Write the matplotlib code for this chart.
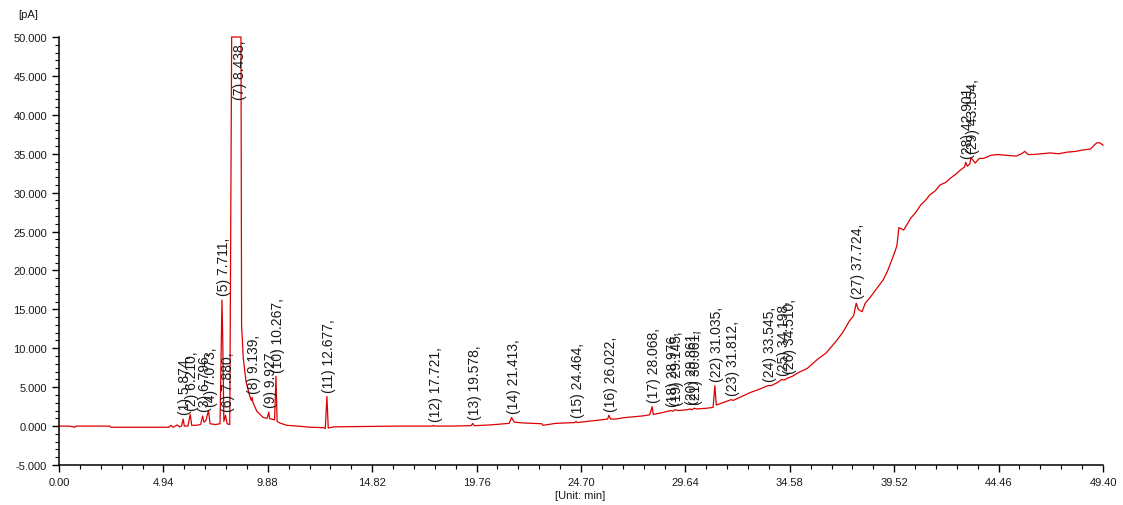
#!/usr/bin/env python3
'''GC-FID chromatogram with numbered peak labels'''
import numpy as np
import matplotlib.pyplot as plt
from matplotlib.ticker import FixedLocator, MultipleLocator, FormatStrFormatter

plt.rcParams['font.family'] = ['Liberation Sans', 'DejaVu Sans']

# trace: time [min], signal [pA]
time_min = [
    0.00, 0.50, 0.75, 0.80, 1.50, 2.40, 2.45, 3.50, 4.50, 5.20, 5.30, 5.40, 5.50,
    5.60, 5.70, 5.80, 5.874, 5.93, 6.10, 6.21, 6.28, 6.50, 6.70, 6.796, 6.86,
    6.95, 7.073, 7.15, 7.40, 7.62, 7.711, 7.75, 7.80, 7.880, 7.95, 8.08,
    8.17, 8.61, 8.64, 8.72, 8.85, 9.01, 9.10, 9.139, 9.17, 9.36, 9.67, 9.85,
    9.927, 9.97, 10.07, 10.20, 10.267, 10.32, 10.45, 10.78, 11.30, 11.90, 12.50,
    12.60, 12.677, 12.74, 13.00, 14.50, 16.00, 17.00, 17.68, 17.721, 17.76, 18.50,
    19.50, 19.578, 19.65, 20.40, 21.30, 21.413, 21.55, 22.00, 22.85, 22.90, 23.50,
    24.00, 24.40, 24.464, 24.52, 25.00, 25.60, 25.96, 26.022, 26.10, 26.30, 26.80,
    27.20, 27.60, 27.95, 28.068, 28.12, 28.50, 28.80, 28.976, 29.05, 29.145, 29.30,
    29.70, 29.861, 29.95, 30.061, 30.20, 30.66, 30.95, 31.035, 31.10, 31.40, 31.812,
    31.90, 32.30, 32.70, 33.20, 33.545, 33.70, 34.00, 34.198, 34.30, 34.510, 34.70,
    35.00, 35.40, 35.90, 36.30, 36.80, 37.10, 37.40, 37.60, 37.724, 37.82, 38.00,
    38.15, 38.40, 38.70, 39.00, 39.20, 39.50, 39.65, 39.74, 39.97, 40.30, 40.55,
    40.77, 41.00, 41.20, 41.45, 41.70, 41.95, 42.20, 42.45, 42.65, 42.85, 42.901,
    42.98, 43.10, 43.154, 43.35, 43.55, 43.75, 44.10, 44.40, 44.80, 45.30, 45.55,
    45.70, 45.85, 46.10, 46.50, 46.90, 47.30, 47.70, 48.10, 48.50, 48.80, 49.10,
    49.25, 49.40,
]
signal_pA = [
    0.00, 0.00, -0.15, 0.00, 0.00, 0.00, -0.15, -0.15, -0.15, -0.15, 0.10, -0.15, 0.00,
    0.15, -0.10, 0.00, 0.90, 0.00, 0.00, 1.50, 0.10, 0.10, 0.20, 1.30, 0.50,
    0.70, 2.00, 0.30, 0.20, 0.30, 16.20, 10.80, 0.60, 1.40, 0.30, 0.20,
    50.00, 50.00, 13.00, 8.70, 5.70, 4.00, 3.30, 3.70, 3.10, 1.90, 1.10, 1.00,
    1.80, 0.95, 0.90, 0.80, 6.40, 0.60, 0.40, 0.10, 0.00, -0.15, -0.20,
    -0.30, 3.80, -0.25, -0.10, -0.05, 0.00, 0.00, 0.00, 0.10, 0.00, 0.00,
    0.05, 0.35, 0.05, 0.15, 0.35, 1.10, 0.50, 0.40, 0.30, 0.10, 0.35,
    0.40, 0.45, 0.60, 0.45, 0.60, 0.80, 0.90, 1.40, 0.90, 0.90, 1.10,
    1.20, 1.30, 1.45, 2.50, 1.50, 1.70, 1.90, 2.00, 1.90, 2.10, 2.00,
    2.10, 2.20, 2.10, 2.30, 2.20, 2.30, 2.40, 5.20, 2.70, 3.00, 3.40,
    3.30, 3.80, 4.30, 4.80, 5.20, 5.20, 5.60, 6.00, 5.90, 6.20, 6.40,
    6.90, 7.40, 8.60, 9.40, 11.00, 12.10, 13.50, 14.20, 15.80, 15.00, 14.70,
    15.80, 16.60, 17.70, 18.80, 19.90, 22.00, 23.20, 25.50, 25.20, 26.70, 27.50,
    28.40, 29.00, 29.70, 30.20, 31.00, 31.30, 31.90, 32.40, 32.90, 33.30, 33.90,
    33.40, 33.70, 34.50, 33.80, 34.40, 34.40, 34.80, 34.90, 34.80, 34.70, 35.00,
    35.30, 34.90, 34.90, 35.00, 35.10, 35.00, 35.20, 35.30, 35.50, 35.60, 36.40,
    36.40, 36.10,
]

# peak table
peak_no = list(range(1, 30))
peak_rt = [
    5.874, 6.210, 6.796, 7.073, 7.711, 7.880, 8.438, 9.139, 9.927, 10.267,
    12.677, 17.721, 19.578, 21.413, 24.464, 26.022, 28.068, 28.976, 29.145,
    29.861, 30.061, 31.035, 31.812, 33.545, 34.198, 34.510, 37.724, 42.901, 43.154,
]

red = '#dd0000'
ink = '#1a1a1a'
fig = plt.figure(figsize=(11.23, 5.06), dpi=100)
ax = fig.add_axes([59/1123, 40/506, 1044/1123, 428/506])

t = np.array(time_min)
s = np.array(signal_pA)
ax.plot(t, s, color=red, lw=0.9, clip_on=False)

for n, rt in zip(peak_no, peak_rt):
    near = s[(t >= rt - 0.12) & (t <= rt + 0.12)]
    top = max(np.interp(rt, t, s), near.max() if near.size else -99)
    txt = f'({n}) {rt:.3f},'
    if top >= 45:
        ax.text(rt + 0.12, 49.7, txt, rotation=90, ha='center', va='top',
                fontsize=10, color=ink)
    else:
        ax.text(rt + 0.1, top + 0.6, txt, rotation=90, ha='center', va='bottom',
                fontsize=10, color=ink)

ax.set_xlim(0, 49.40)
ax.set_ylim(-5, 50)
ax.xaxis.set_major_locator(FixedLocator([4.94 * i for i in range(11)]))
ax.xaxis.set_minor_locator(FixedLocator([0.988 * i for i in range(51)]))
ax.xaxis.set_major_formatter(FormatStrFormatter('%.2f'))
ax.yaxis.set_major_locator(MultipleLocator(5))
ax.yaxis.set_minor_locator(MultipleLocator(1))
ax.yaxis.set_major_formatter(FormatStrFormatter('%.3f'))
ax.tick_params(which='major', direction='out', length=5, width=1, labelsize=8,
               colors='black', labelcolor=ink)
ax.tick_params(which='minor', direction='out', length=3, width=0.8)
for side in ('top', 'right'):
    ax.spines[side].set_visible(False)
ax.spines['left'].set_linewidth(1.1)
ax.spines['bottom'].set_linewidth(1.1)

fig.text(28/1123, 1 - 15/506, '[pA]', ha='center', va='center', fontsize=8, color=ink)
fig.text(580/1123, 1 - 496/506, '[Unit: min]', ha='center', va='center', fontsize=8, color=ink)

fig.savefig('out.png', dpi=100)
